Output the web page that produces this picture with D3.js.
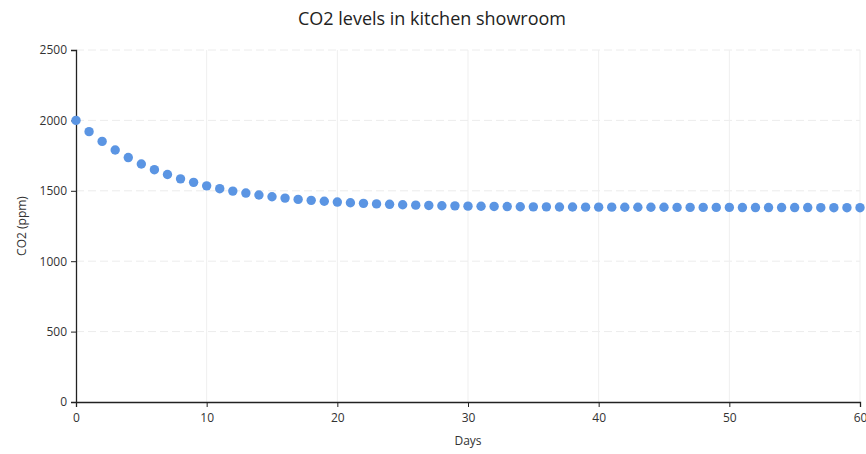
<!DOCTYPE html>
<html><head><meta charset="utf-8">
<script src="https://cdn.jsdelivr.net/npm/d3@7"></script>
<style>body{margin:0;background:#fff}svg{display:block}</style>
</head><body>
<svg id="c" width="866" height="454"></svg>
<script>
const title = "CO2 levels in kitchen showroom";
const xLabel = "Days";
const yLabel = "CO2 (ppm)";
const days = d3.range(0, 61);
const co2 = [2000,1920,1851,1790,1736,1690,1650,1616,1585,1560,
             1535,1515,1498,1484,1470,1458,1448,1439,1432,1426,
             1420,1415,1411,1407,1404,1401,1398,1396,1394,1393,
             1391,1390,1389,1388,1387,1386,1386,1385,1385,1384,
             1384,1384,1383,1383,1383,1383,1382,1382,1382,1382,
             1382,1381,1381,1381,1381,1381,1381,1380,1380,1380,1380];
const xTicks = [0,10,20,30,40,50,60];
const yTicks = [0,500,1000,1500,2000,2500];

const svg = d3.select("#c");
const m = {l:76, r:6, t:50, b:52};
const W = 866, H = 454;
const x = d3.scaleLinear().domain([0,60]).range([m.l, W-m.r]);
const y = d3.scaleLinear().domain([0,2500]).range([H-m.b, m.t]);
const font = "'Open Sans', 'Liberation Sans', sans-serif";

// grid
svg.append("g").selectAll("line").data(yTicks.slice(1)).join("line")
  .attr("x1", m.l).attr("x2", W-m.r).attr("y1", d=>y(d)).attr("y2", d=>y(d))
  .attr("stroke", "#ececec").attr("stroke-width", 1).attr("stroke-dasharray", "8,4");
svg.append("g").selectAll("line").data(xTicks.slice(1)).join("line")
  .attr("y1", m.t).attr("y2", H-m.b).attr("x1", d=>x(d)).attr("x2", d=>x(d))
  .attr("stroke", "#efefef").attr("stroke-width", 1);

// axes
const fmt = d3.format("d");
const gx = svg.append("g").attr("transform", `translate(0,${H-m.b})`)
  .call(d3.axisBottom(x).tickValues(xTicks).tickFormat(fmt).tickSize(5).tickPadding(6));
const gy = svg.append("g").attr("transform", `translate(${m.l},0)`)
  .call(d3.axisLeft(y).tickValues(yTicks).tickFormat(fmt).tickSize(5).tickPadding(4));
[gx, gy].forEach(g => {
  g.select(".domain").attr("stroke", "#222").attr("stroke-width", 1.3);
  g.selectAll(".tick line").attr("stroke", "#222");
  g.selectAll("text").attr("font-family", font).attr("font-size", 12).attr("fill", "#333");
});

// points
svg.append("g").selectAll("circle").data(days).join("circle")
  .attr("cx", d=>x(d)).attr("cy", (d,i)=>y(co2[i])).attr("r", 4.7)
  .attr("fill", "#5b95e3");

// labels
svg.append("text").attr("x", 432).attr("y", 25).attr("text-anchor", "middle")
  .attr("font-family", font).attr("font-size", 18).attr("fill", "#222").text(title);
svg.append("text").attr("x", 468).attr("y", 445).attr("text-anchor", "middle")
  .attr("font-family", font).attr("font-size", 12).attr("fill", "#333").text(xLabel);
svg.append("text").attr("transform", `translate(26,${y(1250)}) rotate(-90)`).attr("text-anchor", "middle")
  .attr("font-family", font).attr("font-size", 12).attr("fill", "#333").text(yLabel);
</script>
</body></html>
